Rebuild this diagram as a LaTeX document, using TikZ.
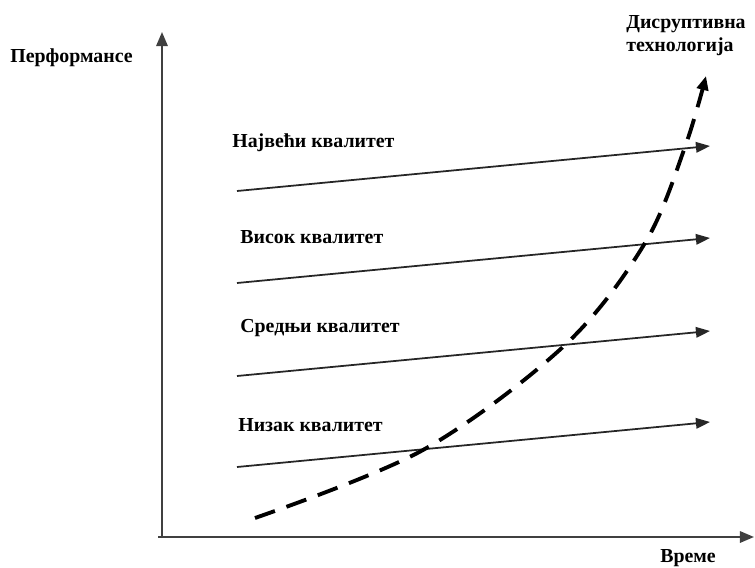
\documentclass[tikz,border=0pt]{standalone}
\usepackage{fontspec}
\setmainfont{Liberation Serif}
\usetikzlibrary{arrows.meta}
\tikzset{axisline/.style={-{Triangle[length=8pt,width=6.5pt]},draw=black!75,line width=1.1pt},
  trendline/.style={-{Triangle[length=8pt,width=6pt]},draw=black!85,line width=1pt},
  disruptline/.style={-{Triangle[length=8pt,width=6.5pt]},line width=2.2pt,dash pattern=on 12pt off 7pt},
  qlabel/.style={font=\fontsize{11.3}{13}\selectfont\bfseries,anchor=west,inner sep=0pt}}

\begin{document}
\begin{tikzpicture}[x=.02cm,y=-.02cm]
\path[use as bounding box] (0,0) rectangle (755,568);
% axes
\coordinate (o) at (162,537);
\coordinate (ytop) at (162,32); \coordinate (xend) at (754,537);
\draw[axisline] ([yshift=-.6pt]o) -- (ytop);
\draw[axisline] ([xshift=-2pt]o) -- (xend);
\node[qlabel] (perf) at (10,58) {Перформансе};
\node[qlabel] (time) at (660,558) {Време};
\node[qlabel,align=left,anchor=north west] (disr) at (626,15) {Дисруптивна\\технологија};
% quality levels
\foreach \n/\y in {1/191,2/283,3/376,4/467} {
\coordinate (s\n) at (237,\y); \coordinate (e\n) at (710,{\y-45});
\draw[trendline] (s\n) -- (e\n);}
\node[qlabel] (top) at (232,143) {Највећи квалитет};
\node[qlabel] (high) at (240,237) {Висок квалитет};
\node[qlabel] (mid) at (240,328) {Средњи квалитет};
\node[qlabel] (low) at (238,425) {Низак квалитет};
% disruptive curve
\coordinate (d0) at (255,518); \coordinate (d1) at (423,450);
\coordinate (d2) at (565,345); \coordinate (d3) at (645,243);
\coordinate (d4) at (685,147); \coordinate (d5) at (706,76);
\draw[disruptline] plot[smooth,tension=.55] coordinates {(d0) (d1) (d2) (d3) (d4) (d5)};
\end{tikzpicture}
\end{document}
